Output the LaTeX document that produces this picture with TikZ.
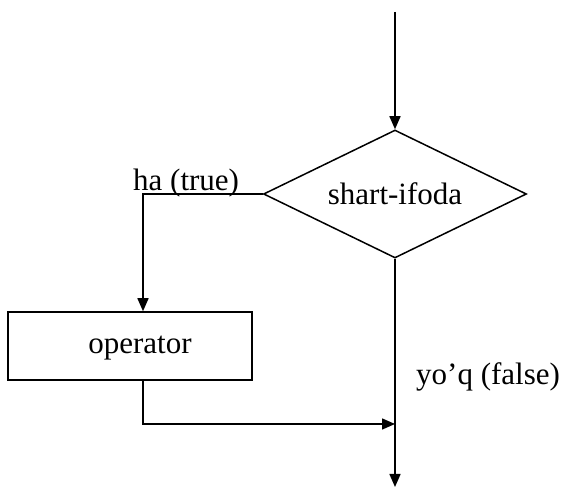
\documentclass[tikz,border=0pt]{standalone}
\usepackage{fontspec}
\setmainfont{Liberation Serif}
\usetikzlibrary{shapes.geometric,arrows.meta}
\begin{document}
\begin{tikzpicture}[x=1pt,y=1pt,
  flow/.style={line width=1.5pt,draw=black},
  arr/.style={flow,-{Triangle[length=13pt,width=11pt]}},
  txt/.style={font=\fontsize{31}{37}\selectfont,inner sep=0pt},
  decision/.style={diamond,aspect=2.05,draw,line width=1.5pt,inner sep=0pt,
    minimum width=263pt,minimum height=128pt,
    font=\fontsize{31}{37}\selectfont},
  process/.style={rectangle,draw,line width=1.5pt,inner sep=0pt,
    minimum width=244pt,minimum height=68pt}]
  \useasboundingbox (0,0) rectangle (563,489);

  % decision and process blocks
  \node[decision] (cond) at (395,295) {shart-ifoda};
  \node[process] (op) at (130,143) {};
  \node[txt] (optext) at (140,141) {operator};

  % helper points for the branches
  \coordinate (start) at (395,477);
  \coordinate (turn) at (143,295);
  \coordinate (opout) at (143,109);
  \coordinate (merge) at (395,65);
  \coordinate (finish) at (395,2);

  % incoming flow
  \draw[arr] (start) -- (cond.north);

  % true branch through the operator
  \draw[arr] (cond.west) -- (turn) -- (turn |- op.north);
  \draw[arr] (opout) |- (merge);

  % false branch straight down
  \draw[arr] (cond.south) -- (finish);

  % branch labels
  \node[txt,anchor=base west] (tlabel) at (133,298) {ha (true)};
  \node[txt,anchor=base west] (flabel) at (416,104) {yo’q (false)};
\end{tikzpicture}
\end{document}
